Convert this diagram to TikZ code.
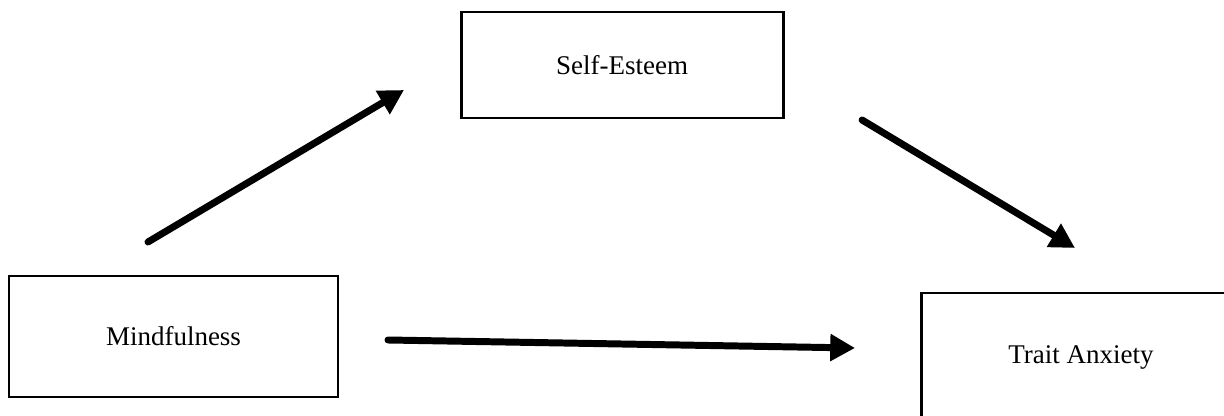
\documentclass[tikz,border=0pt]{standalone}
\usepackage{fontspec}
\setmainfont{Liberation Serif}
\usetikzlibrary{arrows.meta}
\tikzset{
  varbox/.style={draw,line width=1.3pt,inner sep=0pt,font=\fontsize{12pt}{14pt}\selectfont},
  path/.style={line width=3.1pt,line cap=round,-{Triangle[length=11pt,width=11.5pt]}}
}
\begin{document}
\begin{tikzpicture}
\useasboundingbox (0,0) rectangle (19.125,-6.5);
\fill[white] (0,0) rectangle (19.125,-6.5);
% variables
\node[varbox,minimum width=5.03cm,minimum height=1.656cm] (esteem) at (9.72,-1.016) {Self-Esteem};
\node[varbox,minimum width=5.14cm,minimum height=1.89cm] (mind) at (2.711,-5.258) {Mindfulness};
\node[varbox,minimum width=4.97cm,minimum height=2.0cm] (anx) at (16.89,-5.578) {Trait Anxiety};
% paths
\coordinate (a1s) at (2.3125,-3.781);
\coordinate (a1e) at (6.3125,-1.406);
\coordinate (a2s) at (13.47,-1.875);
\coordinate (a2e) at (16.797,-3.875);
\coordinate (a3s) at (6.0625,-5.3125);
\coordinate (a3e) at (13.36,-5.4375);
\draw[path] (a1s) -- (a1e);
\draw[path] (a2s) -- (a2e);
\draw[path] (a3s) -- (a3e);
\end{tikzpicture}
\end{document}
